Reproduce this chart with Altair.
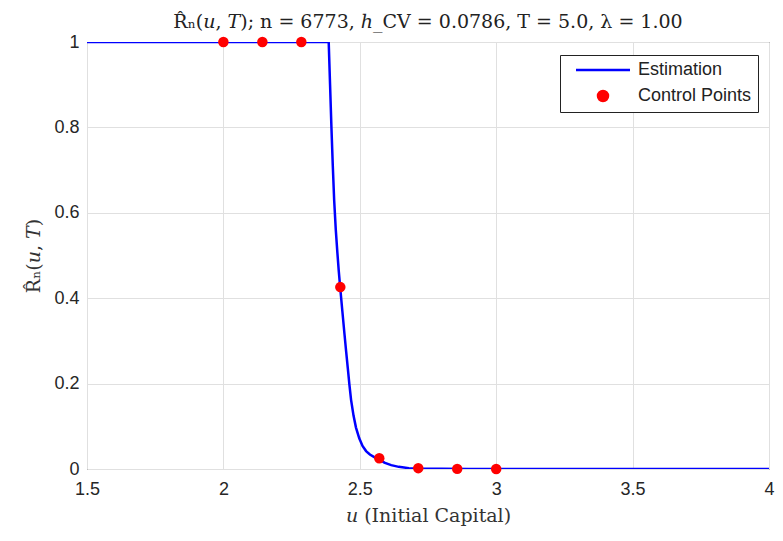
import altair as alt
import pandas as pd

# Estimated curve
curve_u = [1.5, 2.0, 2.386, 2.391, 2.396, 2.401, 2.406, 2.412, 2.418, 2.423, 2.428,
           2.436, 2.444, 2.450, 2.456, 2.462, 2.468, 2.477, 2.486, 2.498, 2.510, 2.523,
           2.537, 2.553, 2.571, 2.59, 2.615, 2.643, 2.68, 2.715, 2.80, 2.9, 3.5, 4.0]
curve_r = [1.0, 1.0, 1.0, 0.90, 0.80, 0.71, 0.63, 0.56, 0.505, 0.463, 0.426,
           0.37, 0.315, 0.275, 0.236, 0.197, 0.162, 0.125, 0.097, 0.072, 0.054, 0.042,
           0.034, 0.028, 0.023, 0.015, 0.009, 0.005, 0.002, 0.001, 0.0003, 0.0, 0.0, 0.0]

# Control points
ctrl_u = [2.0, 2.1429, 2.2857, 2.4286, 2.5714, 2.7143, 2.8571, 3.0]
ctrl_r = [1.0, 1.0, 1.0, 0.426, 0.025, 0.002, 0.0003, 0.0]

series = ["Estimation", "Control Points"]
colors = ["#0000ff", "#ff0000"]

curve = pd.DataFrame({"u": curve_u, "R": curve_r, "series": "Estimation"})
ctrl = pd.DataFrame({"u": ctrl_u, "R": ctrl_r, "series": "Control Points"})

serif = "DejaVu Serif"
sans = "Liberation Sans"

x = alt.X("u:Q", scale=alt.Scale(domain=[1.5, 4], nice=False, zero=False),
          axis=alt.Axis(values=[1.5, 2, 2.5, 3, 3.5, 4], format="~g",
                        title="𝑢 (Initial Capital)", titleFont=serif, titleFontSize=19,
                        titleFontWeight="normal", titleColor="#333333", titlePadding=8,
                        labelFont=sans, labelFontSize=18, labelColor="#262626", labelPadding=11,
                        ticks=False, domain=False, gridColor="#e0e0e0", labelFlush=False))
y = alt.Y("R:Q", scale=alt.Scale(domain=[0, 1], nice=False),
          axis=alt.Axis(values=[0, 0.2, 0.4, 0.6, 0.8, 1], format="~g",
                        title="R̂ₙ(𝑢, 𝑇)", titleFont=serif, titleFontSize=19,
                        titleFontWeight="normal", titleColor="#333333", titlePadding=10,
                        labelFont=sans, labelFontSize=18, labelColor="#262626", labelPadding=8,
                        ticks=False, domain=False, gridColor="#e0e0e0"))

color = alt.Color("series:N", scale=alt.Scale(domain=series, range=colors),
                  legend=alt.Legend(title=None, orient="none", legendX=473, legendY=13,
                                    fillColor="white", strokeColor="#222222",
                                    padding=6, labelFont=sans, labelFontSize=18,
                                    labelColor="#222222", symbolSize=100,
                                    symbolStrokeWidth=2.5, rowPadding=7,
                                    symbolOffset=28, labelOffset=26))
shape = alt.Shape("series:N", scale=alt.Scale(domain=series,
                                              range=["M -5.4 0 L 5.4 0", "circle"]))

line = alt.Chart(curve).mark_line(color="#0000ff", strokeWidth=2.5, clip=True).encode(
    x=x, y=y, color=color)
pts = alt.Chart(ctrl).mark_point(filled=True, size=110, opacity=1).encode(
    x=x, y=y, color=color, shape=shape)

chart = alt.layer(line, pts).properties(
    width=682, height=427,
    title=alt.TitleParams("R̂ₙ(𝑢, 𝑇); n = 6773, ℎ_CV = 0.0786, T = 5.0, λ = 1.00",
                          font=serif, fontSize=19, fontWeight="normal", color="#222222",
                          offset=1),
    autosize=alt.AutoSizeParams(type="none"),
    padding={"left": 79, "top": 34, "right": 6, "bottom": 62},
).configure_view(stroke="#262626", strokeWidth=1)

chart.save("out.html", embed_options={"renderer": "svg", "actions": False})
